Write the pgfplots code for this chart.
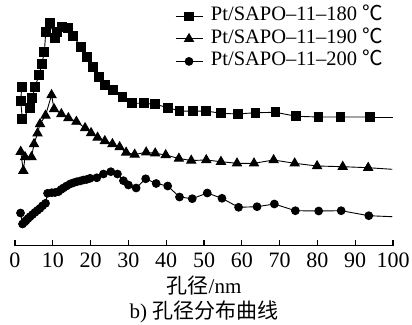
\documentclass[border=0pt]{standalone}
\usepackage{pgfplots}
\pgfplotsset{compat=1.18}
\usepackage{fontspec}
\setmainfont{Liberation Serif}
\newfontfamily\cjk{Noto Sans CJK SC}
\begin{document}
\fontsize{20}{24}\selectfont
\begin{tikzpicture}
\path[use as bounding box] (-15pt,-78.3pt) rectangle (397pt,245.7pt);
\begin{axis}[
  at={(0pt,0pt)}, anchor=south west,
  scale only axis, width=378pt, height=245.7pt,
  xmin=0, xmax=100, ymin=0, ymax=245.7,
  clip=false,
  hide y axis,
  axis x line*=bottom,
  x axis line style={line width=1.5pt},
  xtick={0,10,...,100},
  tick align=inside, major tick length=6pt,
  every tick/.style={black, line width=1.3pt},
  /pgf/number format/assume math mode=true,
  ticklabel style={font=\fontsize{22}{26}\selectfont},
  xlabel={{\cjk 孔径}/nm},
  xlabel style={font=\fontsize{21}{25}\selectfont, yshift=5pt},
  legend cell align=left,
  legend style={draw=none, fill=none, at={(axis cs:41.5,242)}, anchor=north west,
    font=\fontsize{20.5}{24}\selectfont,
    nodes={inner sep=1pt, text height=14pt, text depth=5pt},
    row sep=1.5pt},
  legend image code/.code={\draw[mark repeat=2,mark phase=2,#1] plot coordinates {(0pt,0pt)(13.5pt,0pt)(27pt,0pt)}; \path (34pt,0pt);},
  every axis plot/.append style={black, line width=0.9pt},
]
\addplot[mark=square*, mark size=4.4pt] coordinates {
(1.77,158.4)(1.51,145)(1.93,126.7)(3.97,137.4)(4.58,148)(5.30,159)(6.36,170.7)(7.07,181.4)(7.76,193.4)(8.13,213.4)(9.27,222.4)(10.6,208)(11.2,214)(12.4,219)(14.1,218)(15.4,209.7)(17.4,199)(19.0,189)(20.6,179)(22.3,169)(23.9,161)(26.0,155.7)(28.4,148.4)(30.9,142.4)(34.2,142.4)(37.1,141.4)(40.5,138)(43.5,134.7)(47.0,134.4)(50.6,134.7)(54.5,132.4)(58.9,131.7)(63.6,133)(68.9,133.4)(74.4,129.4)(80.3,128.7)(86.1,128.7)(93.8,128.7)
};
\addlegendentry{Pt/SAPO–11–180 {\cjk ℃}}
\addplot[mark=triangle*, mark size=5.2pt] coordinates {
(1.51,94.0)(2.20,75.0)(2.65,88.7)(4.37,88.7)(5.03,101.7)(5.96,112.4)(6.62,121.7)(8.08,130.2)(9.67,150.7)(10.33,136.7)(12.26,131.7)(14.12,127.7)(16.24,124)(18.54,117.7)(20.13,112.7)(21.85,108.2)(23.76,104.7)(25.77,101.7)(27.68,98.7)(29.40,93.2)(31.66,91.2)(34.70,93.4)(37.09,92.4)(39.87,90.7)(43.36,87.2)(46.62,85.2)(50.60,85.7)(54.49,84.0)(58.73,82.4)(63.23,82.4)(68.42,85.7)(73.99,82.4)(79.92,79.7)(86.70,79.0)(93.43,78.0)
};
\addlegendentry{Pt/SAPO–11–190 {\cjk ℃}}
\addplot[mark=*, mark size=3.9pt] coordinates {
(1.46,32.7)(1.99,21.7)(2.52,23.7)(2.91,25.0)(3.44,27.2)(3.97,29.0)(4.64,31.2)(5.30,33.4)(5.96,35.4)(6.62,37.4)(7.28,39.9)(8.08,42.4)(8.61,52.4)(9.72,53.0)(10.60,53.2)(11.47,54.0)(12.19,56.2)(12.79,57.7)(13.64,59.7)(14.57,61.7)(15.44,62.9)(16.34,64.0)(17.22,64.7)(18.09,65.7)(18.94,66.2)(19.87,67.4)(21.64,67.9)(23.39,71.7)(25.35,74.0)(27.10,71.7)(28.69,65.0)(30.01,60.7)(32.05,57.7)(34.57,66.9)(37.35,62.2)(40.40,59.7)(43.52,48.7)(46.89,47.0)(50.86,52.7)(54.75,47.4)(59.15,38.4)(64.03,39.0)(68.61,41.7)(74.17,35.0)(80.34,34.7)(86.28,35.0)(93.59,30.0)
};
\addlegendentry{Pt/SAPO–11–200 {\cjk ℃}}
\addplot[no marks, forget plot] coordinates {(93.8,128.7)(100,128.7)};
\addplot[no marks, forget plot] coordinates {(93.43,78.0)(99.8,76.4)};
\addplot[no marks, forget plot] coordinates {(93.59,30.0)(99.8,29.0)};
\end{axis}
\node[anchor=base, font=\fontsize{21}{25}\selectfont] at (189pt,-72.5pt) {b) {\cjk 孔径分布曲线}};
\end{tikzpicture}
\end{document}
